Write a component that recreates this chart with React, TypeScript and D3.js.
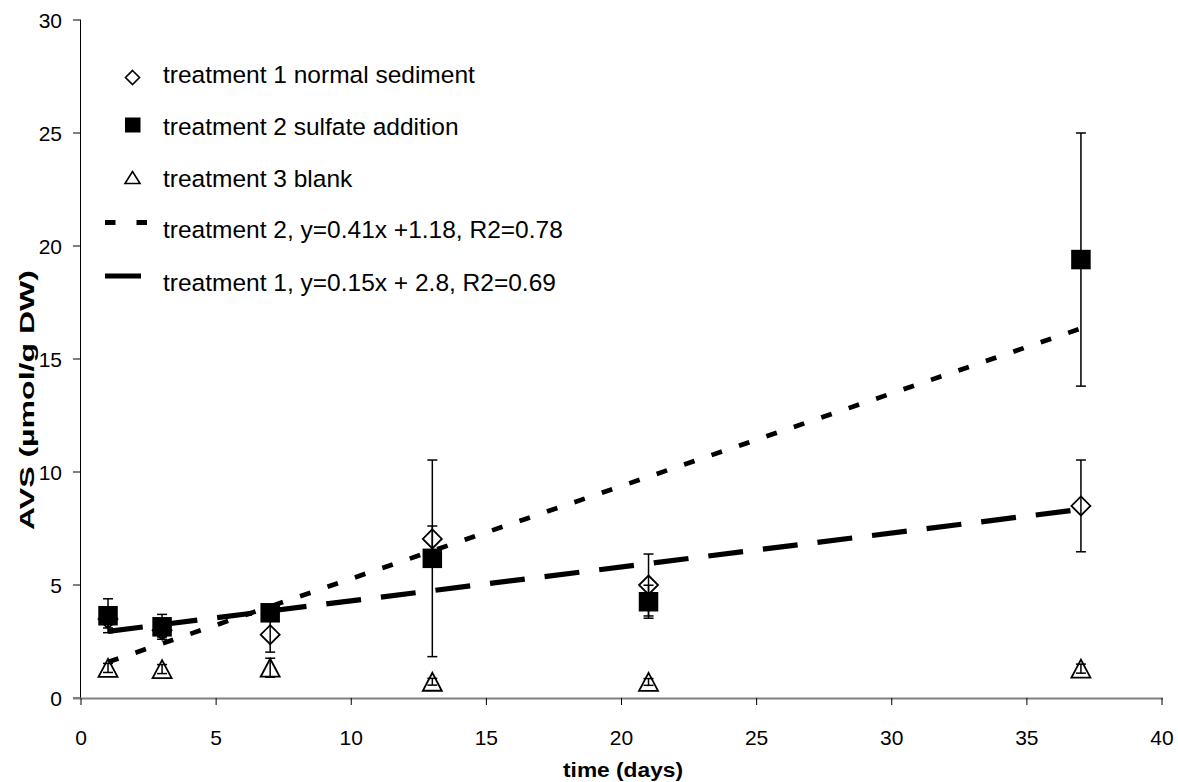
import React from "react";
import * as d3 from "d3";

const days = [1, 3, 7, 13, 21, 37];
const t1Mean = [3.5, 3.0, 2.8, 7.04, 5.0, 8.5];
const t1Err = [0.4, 0.3, 0.77, 0.57, 1.37, 2.03];
const t2Mean = [3.64, 3.15, 3.77, 6.18, 4.26, 19.4];
const t2Err = [0.75, 0.55, 0.25, 4.35, 0.73, 5.6];
const t3Mean = [1.33, 1.28, 1.34, 0.72, 0.71, 1.3];
const t3Err = [0.2, 0.2, 0.42, 0.15, 0.15, 0.2];

const xTicks = [0, 5, 10, 15, 20, 25, 30, 35, 40];
const yTicks = [0, 5, 10, 15, 20, 25, 30];

const trend2 = { slope: 0.41, intercept: 1.18, from: 1, to: 37 };
const trend1 = { slope: 0.15, intercept: 2.8, from: 1, to: 37 };

const legendLabels = [
  "treatment 1 normal sediment",
  "treatment 2 sulfate addition",
  "treatment 3 blank",
  "treatment 2, y=0.41x +1.18, R2=0.78",
  "treatment 1, y=0.15x + 2.8, R2=0.69",
];

const W = 1178;
const H = 782;
const FONT = "'Liberation Sans', Arial, sans-serif";

export default function App() {
  const x = d3.scaleLinear().domain([0, 40]).range([81, 1162]);
  const y = d3.scaleLinear().domain([0, 30]).range([698, 20]);

  const diamond = (cx: number, cy: number, r: number) =>
    `M${cx},${cy - r}L${cx + r},${cy}L${cx},${cy + r}L${cx - r},${cy}Z`;
  const tri = (cx: number, cy: number, w: number, h: number) =>
    `M${cx},${cy - h / 2}L${cx + w / 2},${cy + h / 2}L${cx - w / 2},${cy + h / 2}Z`;

  const errBar = (xv: number, m: number, e: number, key: string) => {
    const px = x(xv);
    const top = y(m + e);
    const bot = y(m - e);
    return (
      <g key={key} stroke="#000" strokeWidth={1.5}>
        <line x1={px} x2={px} y1={top} y2={bot} />
        <line x1={px - 5} x2={px + 5} y1={top} y2={top} />
        <line x1={px - 5} x2={px + 5} y1={bot} y2={bot} />
      </g>
    );
  };

  const t2Line = d3
    .line<number>()
    .x((d) => x(d))
    .y((d) => y(trend2.slope * d + trend2.intercept))([trend2.from, trend2.to]);
  const t1Line = d3
    .line<number>()
    .x((d) => x(d))
    .y((d) => y(trend1.slope * d + trend1.intercept))([trend1.from, trend1.to]);

  const legMarkY = [77.5, 125, 177.5, 222.5, 276];
  const legTextY = [83, 135, 187, 238, 291];

  return (
    <svg width={W} height={H} style={{ position: "absolute", left: 0, top: 0, background: "#fff" }} fontFamily={FONT}>
      <rect x={0} y={0} width={W} height={H} fill="#fff" />

      {/* y axis */}
      <line x1={80.5} x2={80.5} y1={20} y2={698} stroke="#000" strokeWidth={1} />
      {yTicks.map((t) => (
        <g key={"yt" + t}>
          <line x1={73} x2={81} y1={y(t)} y2={y(t)} stroke="#000" strokeWidth={1} />
          <text x={62} y={y(t) + 7.5} textAnchor="end" fontSize={21} fill="#000">
            {t}
          </text>
        </g>
      ))}
      {/* x axis */}
      <line x1={73} x2={1163} y1={698.5} y2={698.5} stroke="#808080" strokeWidth={2} />
      {xTicks.map((t) => (
        <g key={"xt" + t}>
          <line x1={x(t)} x2={x(t)} y1={698} y2={705} stroke="#000" strokeWidth={1} />
          <text x={x(t)} y={745} textAnchor="middle" fontSize={21} fill="#000">
            {t}
          </text>
        </g>
      ))}
      <text x={623} y={777} textAnchor="middle" fontSize={20} fontWeight="bold" textLength={120} lengthAdjust="spacingAndGlyphs">
        time (days)
      </text>
      <text
        transform={`translate(34,${400}) rotate(-90)`}
        textAnchor="middle"
        fontSize={21}
        fontWeight="bold"
        textLength={260}
        lengthAdjust="spacingAndGlyphs"
      >
        AVS (µmol/g DW)
      </text>

      {/* treatment 1 diamonds */}
      {days.map((d, i) => (
        <path key={"d" + i} d={diamond(x(d), y(t1Mean[i]), 9.5)} fill="#fff" stroke="#000" strokeWidth={1.8} />
      ))}
      {/* treatment 2 squares */}
      {days.map((d, i) => (
        <rect key={"s" + i} x={x(d) - 9.75} y={y(t2Mean[i]) - 9.75} width={19.5} height={19.5} fill="#000" />
      ))}
      {/* treatment 3 triangles */}
      {days.map((d, i) => (
        <path key={"t" + i} d={tri(x(d), y(t3Mean[i]), 19, 18)} fill="#fff" stroke="#000" strokeWidth={1.8} />
      ))}

      {/* trend lines */}
      <path d={t2Line || ""} fill="none" stroke="#000" strokeWidth={4.7} strokeDasharray="11 18" />
      <path d={t1Line || ""} fill="none" stroke="#000" strokeWidth={5.2} strokeDasharray="35 20" />

      {/* error bars */}
      {days.map((d, i) => errBar(d, t1Mean[i], t1Err[i], "e1" + i))}
      {days.map((d, i) => errBar(d, t2Mean[i], t2Err[i], "e2" + i))}
      {days.map((d, i) => errBar(d, t3Mean[i], t3Err[i], "e3" + i))}

      {/* legend */}
      <path d={diamond(132.5, legMarkY[0], 7)} fill="#fff" stroke="#000" strokeWidth={1.6} />
      <rect x={125} y={legMarkY[1] - 7.5} width={15.5} height={15} fill="#000" />
      <path d={tri(132.5, legMarkY[2], 15, 12)} fill="#fff" stroke="#000" strokeWidth={1.6} />
      <line x1={105} x2={148} y1={legMarkY[3]} y2={legMarkY[3]} stroke="#000" strokeWidth={5} strokeDasharray="10.5 21" />
      <line x1={105} x2={141} y1={legMarkY[4]} y2={legMarkY[4]} stroke="#000" strokeWidth={5} />
      {legendLabels.map((l, i) => (
        <text key={"l" + i} x={163} y={legTextY[i]} fontSize={24.5} fill="#000">
          {l}
        </text>
      ))}
    </svg>
  );
}
